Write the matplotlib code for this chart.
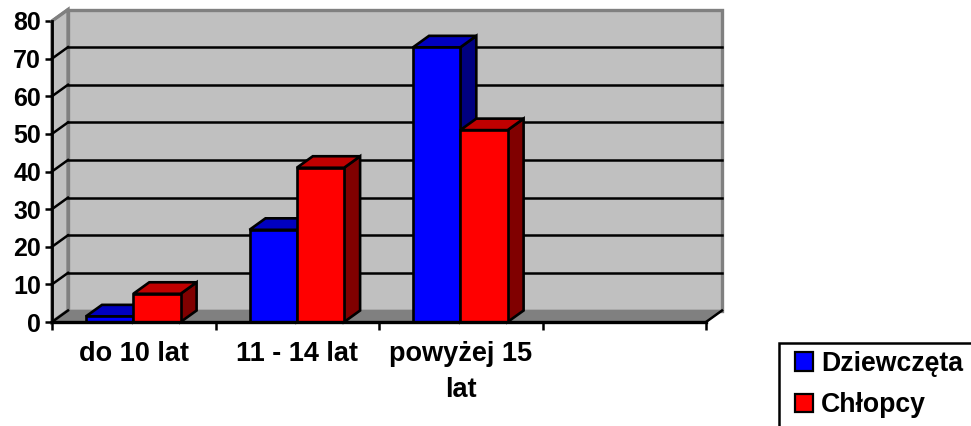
import matplotlib
matplotlib.use("Agg")
import matplotlib.pyplot as plt
from matplotlib.patches import Polygon, Rectangle

categories = ["do 10 lat", "11 - 14 lat", "powyżej 15\nlat", ""]
dziewczeta = [1.5, 24.5, 73, 0]
chlopcy = [7.5, 41, 51, 0]
y_ticks = [0, 10, 20, 30, 40, 50, 60, 70, 80]

W, H = 971, 426
plt.rcParams['font.family'] = ['Liberation Sans', 'DejaVu Sans']
fig = plt.figure(figsize=(W/100, H/100), dpi=100)
ax = fig.add_axes([52/W, 1-322/H, (706-52)/W, (322-21)/H])
ax.set_xlim(0, 4)
ax.set_ylim(0, 80)
for s in ax.spines.values():
    s.set_visible(False)

dx = 16/163.5           # depth offset in category units
dy = 11.5/(301/80)      # depth offset in value units
bw = 47.3/163.5
off = 34/163.5
lw = 1.9
GRAY = "#808080"
WALL = "#C0C0C0"


def poly(pts, fc, ec=None, z=1, lw_=lw):
    ax.add_patch(Polygon(pts, closed=True, fc=fc, ec=ec if ec else fc, lw=lw_,
                         joinstyle='miter', clip_on=False, zorder=z))


# walls and floor
poly([(dx, dy), (4+dx, dy), (4+dx, 80+dy), (dx, 80+dy)], WALL, GRAY, 1, 2.4)
poly([(0, 0), (dx, dy), (dx, 80+dy), (0, 80)], WALL, GRAY, 1, 2.4)
poly([(0, 0), (4, 0), (4+dx, dy), (dx, dy)], GRAY, GRAY, 1.5, 1)

# gridlines on the back and side walls
for v in y_ticks[1:-1]:
    ax.plot([dx, 4+dx], [v+dy, v+dy], color='black', lw=1.8, clip_on=False, zorder=2)
for v in y_ticks[:-1]:
    ax.plot([0, dx], [v, v+dy], color='black', lw=1.8, clip_on=False, zorder=2)
ax.plot([0, dx], [80, 80+dy], color=GRAY, lw=2, clip_on=False, zorder=2)
ax.plot([4, 4+dx], [0, dy], color='black', lw=1.8, clip_on=False, zorder=2)


def bar3d(x, v, front, top, side, z):
    poly([(x+bw, 0), (x+bw+dx, dy), (x+bw+dx, v+dy), (x+bw, v)], side, 'black', z)
    poly([(x, v), (x+bw, v), (x+bw+dx, v+dy), (x+dx, v+dy)], top, 'black', z)
    poly([(x, 0), (x+bw, 0), (x+bw, v), (x, v)], front, 'black', z)


for i in range(3):
    bar3d(i+off, dziewczeta[i], "#0000FF", "#0000C0", "#000080", 3+i)
    bar3d(i+off+bw, chlopcy[i], "#FF0000", "#C00000", "#800000", 3.5+i)

# front axes
ax.plot([0, 0], [0, 80], color='black', lw=2, clip_on=False, zorder=8)
ax.plot([0, 4], [0, 0], color='black', lw=2.4, clip_on=False, zorder=8)

ax.set_yticks(y_ticks)
ax.set_yticklabels([str(v) for v in y_ticks], fontsize=18, fontweight='bold')
ax.tick_params(axis='y', length=5, width=1.8, pad=3)
ax.set_xticks(range(5))
ax.set_xticklabels([])
ax.tick_params(axis='x', which='major', length=5.5, width=1.8)
ax.set_xticks([0.5, 1.5, 2.5, 3.5], minor=True)
ax.set_xticklabels(categories, minor=True, fontsize=19.5, fontweight='bold', linespacing=1.47)
ax.tick_params(axis='x', which='minor', length=0, pad=14)

# legend
fig.add_artist(Rectangle((778.5/W, -10/H), 300/W, (426+10-342.5)/H, fc='white', ec='black', lw=1.8,
                         transform=fig.transFigure, clip_on=True))
handles = [Rectangle((0, 0), 1, 1, fc="#0000FF", ec='black', lw=1.6),
           Rectangle((0, 0), 1, 1, fc="#FF0000", ec='black', lw=1.6)]
fig.legend(handles, ["Dziewczęta", "Chłopcy"], frameon=False, loc='upper left',
           bbox_to_anchor=(795/W, 1-351/H), borderaxespad=0, borderpad=0,
           prop={'size': 19.2, 'weight': 'bold'}, handlelength=0.68, handleheight=0.68,
           handletextpad=0.3, labelspacing=0.58)

fig.savefig("out.png", dpi=100)
